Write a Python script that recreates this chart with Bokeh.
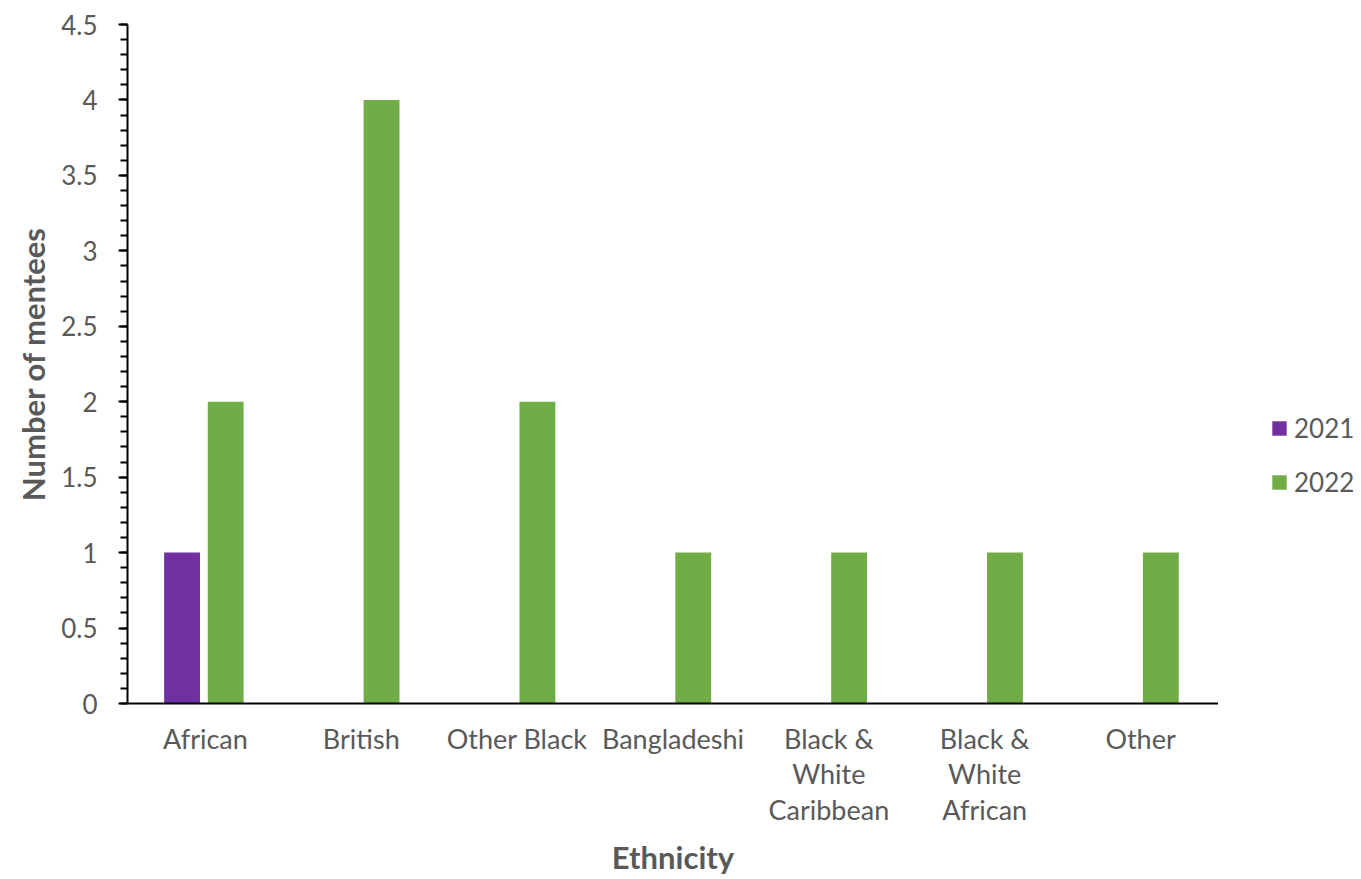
from bokeh.plotting import figure
from bokeh.layouts import row
from bokeh.models import (FactorRange, Range1d, SingleIntervalTicker, CustomJSTickFormatter,
                          Legend, LegendItem, ColumnDataSource)
from bokeh.transform import dodge
from bokeh.embed import file_html
from bokeh.resources import INLINE

categories = ["African", "British", "Other Black", "Bangladeshi",
              "Black &\nWhite\nCaribbean", "Black &\nWhite\nAfrican", "Other"]
values_2021 = [1, 0, 0, 0, 0, 0, 0]
values_2022 = [2, 4, 2, 1, 1, 1, 1]
series_names = ["2021", "2022"]
colors = ["#7030A0", "#70AD47"]

FONT = "Lato"
GREY = "#595959"
H = 878

src = ColumnDataSource(dict(cat=categories, v2021=values_2021, v2022=values_2022))

p = figure(width=1218, height=H, x_range=FactorRange(*categories),
           y_range=Range1d(0, 4.5), output_backend="svg", toolbar_location=None,
           min_border_left=127, min_border_right=0, min_border_top=24,
           min_border_bottom=H - 703)
p.outline_line_color = None
p.xgrid.grid_line_color = None
p.ygrid.grid_line_color = None

p.vbar(x=dodge("cat", -0.15, range=p.x_range), top="v2021", width=0.23,
       source=src, fill_color=colors[0], line_color=None)
p.vbar(x=dodge("cat", 0.13, range=p.x_range), top="v2022", width=0.23,
       source=src, fill_color=colors[1], line_color=None)

# Y axis
p.yaxis.ticker = SingleIntervalTicker(interval=0.5, num_minor_ticks=5)
p.yaxis.formatter = CustomJSTickFormatter(code="return String(Math.round(tick*10)/10)")
p.yaxis.axis_line_color = "black"
p.yaxis.axis_line_width = 2
p.yaxis.major_tick_line_color = "black"
p.yaxis.minor_tick_line_color = "black"
p.yaxis.major_tick_line_width = 2
p.yaxis.minor_tick_line_width = 2
p.yaxis.major_tick_in = 0
p.yaxis.major_tick_out = 9
p.yaxis.minor_tick_in = 0
p.yaxis.minor_tick_out = 7
p.yaxis.major_label_text_font = FONT
p.yaxis.major_label_text_font_size = "26px"
p.yaxis.major_label_text_color = GREY
p.yaxis.major_label_standoff = 21
p.yaxis.axis_label = "Number of mentees"
p.yaxis.axis_label_text_font = FONT
p.yaxis.axis_label_text_font_style = "bold"
p.yaxis.axis_label_text_font_size = "31px"
p.yaxis.axis_label_text_color = GREY
p.yaxis.axis_label_standoff = 6

# X axis
p.xaxis.axis_line_color = "black"
p.xaxis.axis_line_width = 2
p.xaxis.major_tick_line_color = None
p.xaxis.minor_tick_line_color = None
p.xaxis.major_label_text_font = FONT
p.xaxis.major_label_text_font_size = "27px"
p.xaxis.major_label_text_color = GREY
p.xaxis.major_label_text_line_height = 1.08
p.xaxis.major_label_standoff = 12
p.xaxis.major_label_orientation = "horizontal"
p.xaxis.axis_label = "Ethnicity"
p.xaxis.axis_label_text_font = FONT
p.xaxis.axis_label_text_font_style = "bold"
p.xaxis.axis_label_text_font_size = "31px"
p.xaxis.axis_label_text_color = GREY
p.xaxis.axis_label_standoff = 9

# Legend in a separate narrow figure on the right (frames are aligned by the row)
lf = figure(width=140, height=H, output_backend="svg", toolbar_location=None,
            min_border=0, x_range=FactorRange(*categories), y_range=Range1d(100, 101))
lf.outline_line_color = None
lf.axis.visible = False
lf.grid.visible = False
l1 = lf.vbar(x="cat", top="v2021", width=0.23, source=src,
             fill_color=colors[0], line_color=None, visible=False)
l2 = lf.vbar(x="cat", top="v2022", width=0.23, source=src,
             fill_color=colors[1], line_color=None, visible=False)

legend = Legend(items=[LegendItem(label=series_names[0], renderers=[l1]),
                       LegendItem(label=series_names[1], renderers=[l2])],
                location=(52, 205), orientation="vertical",
                glyph_width=18, glyph_height=18, label_height=18,
                spacing=22, label_standoff=6, padding=0, margin=0,
                border_line_color=None, background_fill_alpha=0,
                inactive_fill_alpha=0,
                label_text_font=FONT, label_text_font_size="26px",
                label_text_color=GREY)
lf.add_layout(legend, "center")

layout = row(p, lf, spacing=0)
open("out.html", "w").write(file_html(layout, INLINE))
